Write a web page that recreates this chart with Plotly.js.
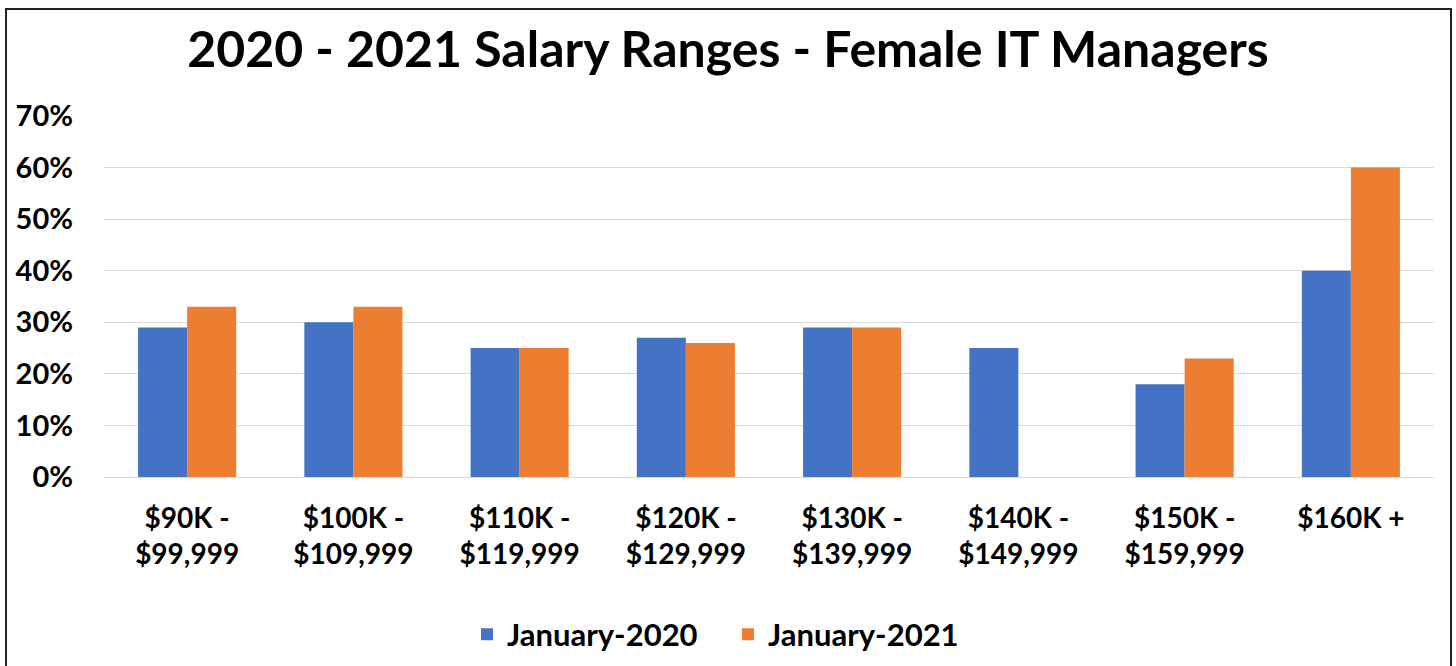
<!DOCTYPE html>
<html><head><meta charset="utf-8">
<script src="https://cdn.plot.ly/plotly-3.0.1.min.js"></script>
<style>
html,body{margin:0;padding:0;width:1456px;height:666px;overflow:hidden;background:#fff;}
#chart{position:absolute;left:0;top:0;width:1456px;height:666px;}
#frame{position:absolute;left:5px;top:8px;width:1443px;height:680px;border:2px solid #222;pointer-events:none;}
</style></head>
<body>
<div id="chart"></div>
<div id="frame"></div>
<script>
const categories = ["$90K -<br>$99,999","$100K -<br>$109,999","$110K -<br>$119,999","$120K -<br>$129,999","$130K -<br>$139,999","$140K -<br>$149,999","$150K -<br>$159,999","$160K +"];
const jan2020 = [0.29,0.30,0.25,0.27,0.29,0.25,0.18,0.40];
const jan2021 = [0.33,0.33,0.25,0.26,0.29,0,0.23,0.60];
const yTicks = [0,0.1,0.2,0.3,0.4,0.5,0.6,0.7];

const FONT = "Lato, 'Open Sans', sans-serif";
const traces = [
  {type:"bar", name:"January-2020", x:categories, y:jan2020, marker:{color:"#4472C4"}, hoverinfo:"y"},
  {type:"bar", name:"January-2021", x:categories, y:jan2021, marker:{color:"#ED7D31"}, hoverinfo:"y"}
];
const layout = {
  width:1456, height:666,
  margin:{l:104, r:22, t:116, b:189},
  paper_bgcolor:"#fff", plot_bgcolor:"#fff",
  font:{family:FONT, color:"#000"},
  title:{text:"<b>2020 - 2021 Salary Ranges - Female IT Managers</b>", font:{size:50, family:FONT, color:"#000"}, x:0.5, xanchor:"center", y:0.925, yanchor:"middle"},
  barmode:"group", bargap:0.41, bargroupgap:0,
  xaxis:{tickfont:{size:28, family:FONT, color:"#000", weight:"bold"}, showgrid:false, showline:true, linecolor:"#d9d9d9", linewidth:1, ticks:"", ticklabelstandoff:16, automargin:false, fixedrange:true},
  yaxis:{range:[0,0.7], tickvals:yTicks, tickformat:".0%", tickfont:{size:29, family:FONT, color:"#000", weight:"bold"}, gridcolor:"#d9d9d9", gridwidth:1, zeroline:true, zerolinecolor:"#d9d9d9", showline:false, ticks:"", ticklabelstandoff:30, automargin:false, fixedrange:true},
  legend:{orientation:"h", xref:"container", yref:"container", x:0.5, xanchor:"center", y:0.047, yanchor:"middle", font:{size:31, family:FONT, color:"#000", weight:"bold"}, itemwidth:30, entrywidth:216, entrywidthmode:"pixels", traceorder:"normal"},
  showlegend:true
};
Plotly.newPlot("chart", traces, layout, {displayModeBar:false, staticPlot:true});
</script>
</body></html>
